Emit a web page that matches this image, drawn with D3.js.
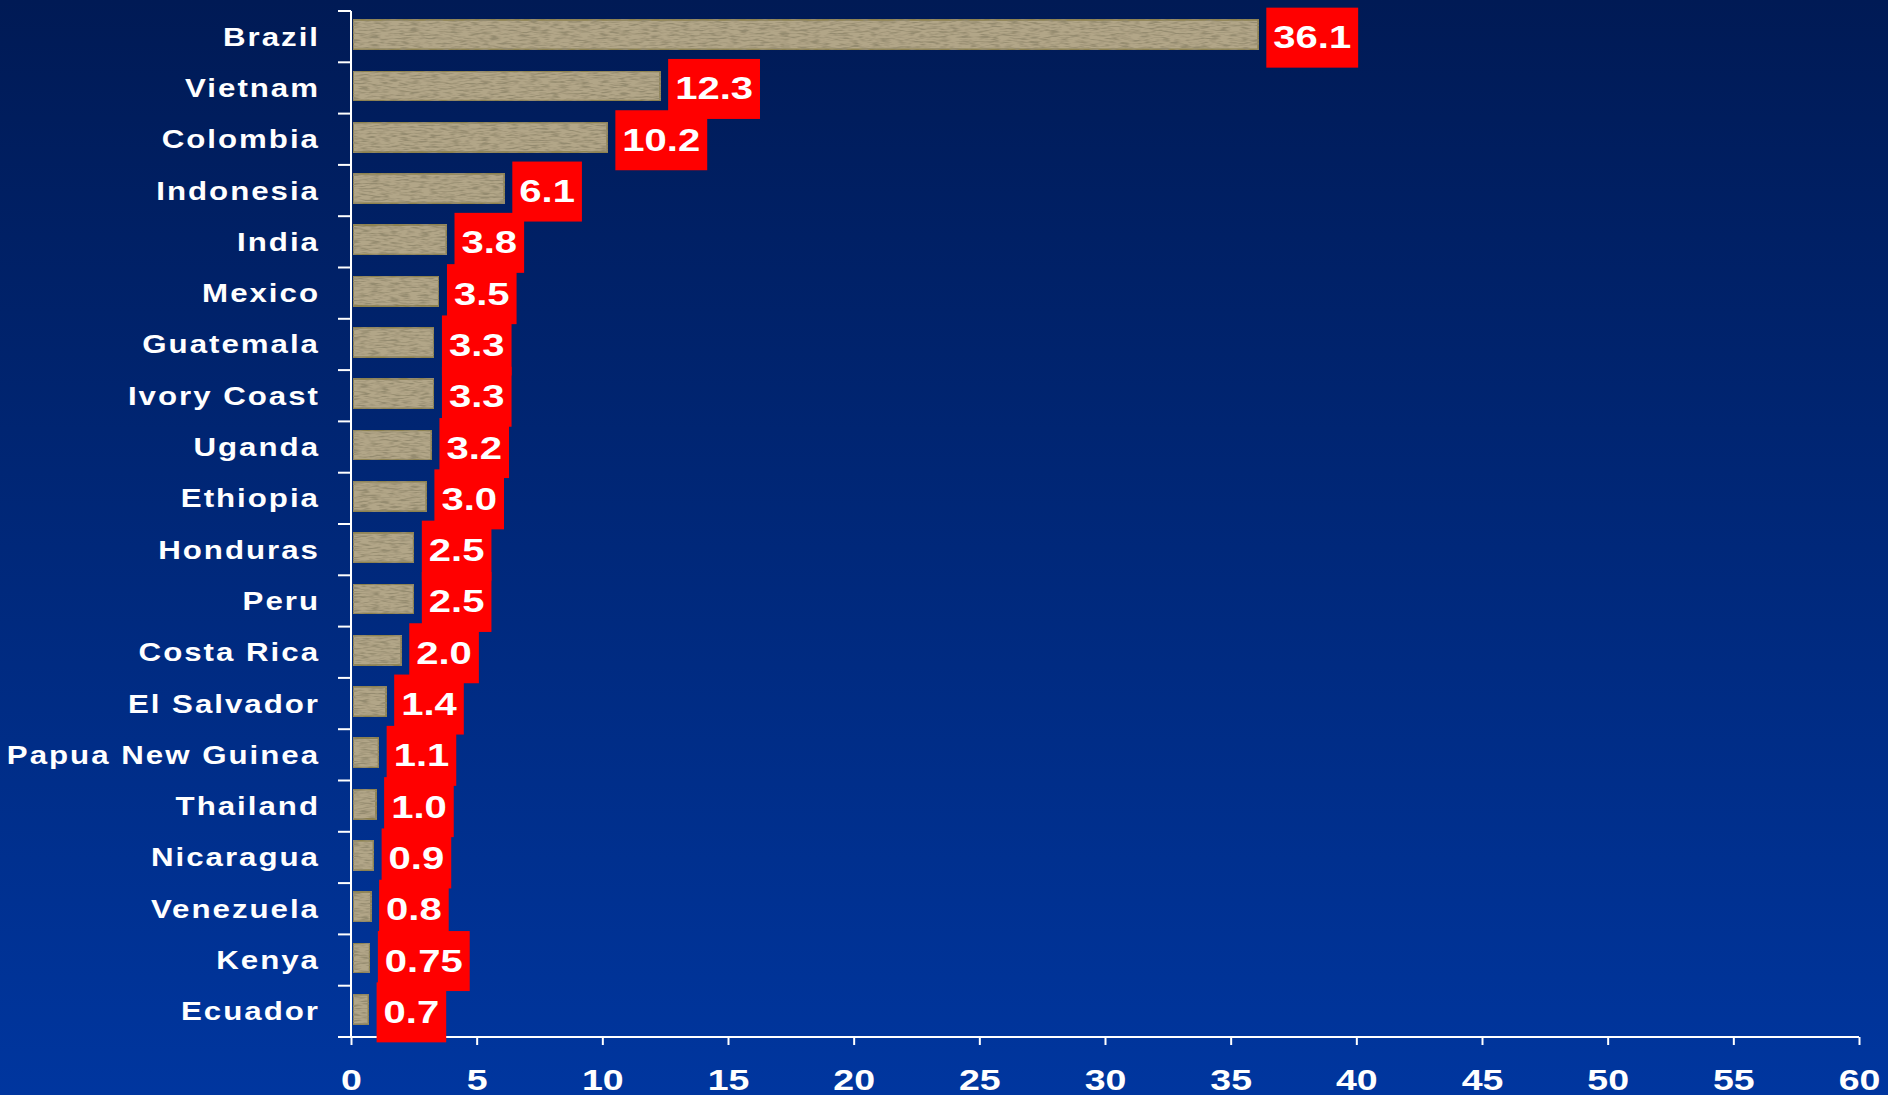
<!DOCTYPE html>
<html>
<head>
<meta charset="utf-8">
<script src="https://cdn.jsdelivr.net/npm/d3@7"></script>
<style>
  html, body { margin: 0; padding: 0; }
  body { width: 1888px; height: 1095px; overflow: hidden; }
  text { font-family: "Liberation Sans", Arial, sans-serif; font-weight: bold; fill: #fff; }
</style>
</head>
<body>
<svg id="chart" width="1888" height="1095"></svg>
<script>
// coffee producers, values
var countries = ["Brazil", "Vietnam", "Colombia", "Indonesia", "India", "Mexico", "Guatemala",
    "Ivory Coast", "Uganda", "Ethiopia", "Honduras", "Peru", "Costa Rica", "El Salvador",
    "Papua New Guinea", "Thailand", "Nicaragua", "Venezuela", "Kenya", "Ecuador"];
var values = [36.1, 12.3, 10.2, 6.1, 3.8, 3.5, 3.3, 3.3, 3.2, 3.0, 2.5, 2.5, 2.0, 1.4,
    1.1, 1.0, 0.9, 0.8, 0.75, 0.7];
var xTicks = [0, 5, 10, 15, 20, 25, 30, 35, 40, 45, 50, 55, 60];

var data = countries.map(function (c, i) { return { name: c, value: values[i] }; });

var svg = d3.select("#chart");
var stretch = 1.25; // text in the original is drawn wide

// background gradient
var defs = svg.append("defs");
var grad = defs.append("linearGradient")
    .attr("id", "bg").attr("x1", 0).attr("y1", 0).attr("x2", 0).attr("y2", 1);
grad.append("stop").attr("offset", "0%").attr("stop-color", "#001a55");
grad.append("stop").attr("offset", "100%").attr("stop-color", "#00369f");

// burlap-ish texture for the bars
var tex = defs.append("filter").attr("id", "tex")
    .attr("x", 0).attr("y", 0).attr("width", 1).attr("height", 1);
tex.append("feTurbulence")
    .attr("type", "fractalNoise")
    .attr("baseFrequency", "0.1 0.6")
    .attr("numOctaves", 2)
    .attr("seed", 4)
    .attr("result", "noise");
tex.append("feColorMatrix")
    .attr("in", "noise")
    .attr("type", "matrix")
    .attr("values", "0 0 0 0 0.30  0 0 0 0 0.26  0 0 0 0 0.16  3.2 0 0 0 -1.35")
    .attr("result", "dark");
tex.append("feComposite")
    .attr("in", "dark").attr("in2", "SourceGraphic")
    .attr("operator", "in").attr("result", "darkIn");
var merge = tex.append("feMerge");
merge.append("feMergeNode").attr("in", "SourceGraphic");
merge.append("feMergeNode").attr("in", "darkIn");

svg.append("rect")
    .attr("width", 1888).attr("height", 1095)
    .attr("fill", "url(#bg)");

// scales
var x = d3.scaleLinear()
    .domain([0, 60])
    .range([351, 1859]);

var y = d3.scaleBand()
    .domain(countries)
    .range([11, 1037])
    .paddingInner(0.42)
    .paddingOuter(0.21);

// bars
svg.selectAll(".bar")
    .data(data)
    .enter().append("rect")
    .attr("class", "bar")
    .attr("x", x(0) + 2)
    .attr("y", function (d) { return y(d.name) - 2; })
    .attr("width", function (d) { return x(d.value) - x(0) - 2; })
    .attr("height", y.bandwidth())
    .attr("fill", "#b2a688")
    .attr("stroke", "#8c8150")
    .attr("stroke-width", 2)
    .attr("filter", "url(#tex)");

// y axis: line + ticks at band boundaries
var yAxis = svg.append("g").attr("class", "y axis");
yAxis.append("line")
    .attr("x1", x(0)).attr("x2", x(0))
    .attr("y1", y.range()[0]).attr("y2", y.range()[1])
    .attr("stroke", "#fff").attr("stroke-width", 2);
var bounds = countries.map(function (c) { return y(c) - y.step() * y.paddingInner() / 2; });
bounds.push(y.range()[1]);
yAxis.selectAll(".tick")
    .data(bounds)
    .enter().append("line")
    .attr("class", "tick")
    .attr("x1", x(0) - 13).attr("x2", x(0))
    .attr("y1", function (d) { return d; })
    .attr("y2", function (d) { return d; })
    .attr("stroke", "#fff").attr("stroke-width", 2);

// category labels
svg.selectAll(".cat")
    .data(data)
    .enter().append("text")
    .attr("class", "cat")
    .attr("transform", function (d) {
        return "translate(320," + (y(d.name) + y.bandwidth() / 2) + ") scale(" + stretch + ",1)";
    })
    .attr("text-anchor", "end")
    .attr("dy", "0.36em")
    .style("font-size", "25px")
    .style("letter-spacing", "1.6px")
    .text(function (d) { return d.name; });

// x axis
var xAxis = d3.axisBottom(x)
    .tickValues(xTicks)
    .tickSize(8)
    .tickFormat(function (d) { return d; });

var gx = svg.append("g")
    .attr("class", "x axis")
    .attr("transform", "translate(0," + y.range()[1] + ")")
    .call(xAxis);
gx.select(".domain")
    .attr("d", "M" + x(0) + ",0H" + x(60))
    .attr("stroke", "#fff").attr("stroke-width", 2);
gx.selectAll(".tick line").attr("stroke", "#fff").attr("stroke-width", 2);
gx.selectAll(".tick text")
    .attr("fill", "#fff")
    .attr("dy", null)
    .attr("y", 53)
    .style("font-size", "30px")
    .style("font-family", "'Liberation Sans', Arial, sans-serif")
    .style("font-weight", "bold")
    .attr("transform", "scale(" + stretch + ",1)");

// value labels in red boxes
function fmt(v) {
    return Math.round(v * 10) === v * 10 ? d3.format(".1f")(v) : d3.format(".2f")(v);
}

var lab = svg.selectAll(".lab")
    .data(data)
    .enter().append("g")
    .attr("class", "lab")
    .attr("transform", function (d) {
        return "translate(" + (x(d.value) + 8) + "," + (y(d.name) + y.bandwidth() / 2) + ")";
    });

lab.append("rect")
    .attr("fill", "#ff0000");

var labText = lab.append("text")
    .attr("text-anchor", "start")
    .attr("dy", "0.36em")
    .style("font-size", "32px")
    .text(function (d) { return fmt(d.value); });

labText.each(function () {
    var w = this.getComputedTextLength() * stretch;
    var g = d3.select(this.parentNode);
    g.select("text").attr("transform", "translate(7,0) scale(" + stretch + ",1)");
    g.select("rect")
        .attr("x", 0)
        .attr("y", -29)
        .attr("width", w + 14)
        .attr("height", 60);
});
</script>
</body>
</html>
